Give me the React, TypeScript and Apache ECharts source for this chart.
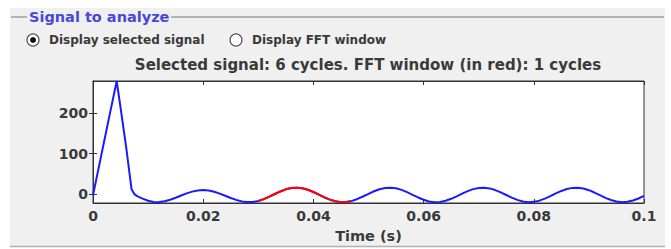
import React, { useEffect, useRef } from "react";
import * as echarts from "echarts";

const GROUP_TITLE = "Signal to analyze";
const RADIO_LABELS = ["Display selected signal", "Display FFT window"];
const CHART_TITLE = "Selected signal: 6 cycles. FFT window (in red): 1 cycles";
const X_NAME = "Time (s)";
const Y_TICKS = [0, 100, 200];
const FFT_WINDOW_MS = [30, 46.7];

const TIME_MS = [
  0, 1, 2, 3, 4, 4.3, 5, 6, 7, 7.5, 8, 9, 10, 11, 11.5, 12, 13, 14, 15, 16, 17, 18, 19, 20,
  21, 22, 23, 24, 25, 26, 27, 28, 29, 30, 31, 32, 33, 34, 35, 36, 37, 38, 39, 40,
  41, 42, 43, 44, 45, 46, 46.7, 47, 48, 49, 50, 51, 52, 53, 54, 55, 56, 57, 58, 59, 60,
  61, 62, 63, 64, 65, 66, 67, 68, 69, 70, 71, 72, 73, 74, 75, 76, 77, 78, 79, 80,
  81, 82, 83, 84, 85, 86, 87, 88, 89, 90, 91, 92, 93, 94, 95, 96, 97, 98, 99, 100,
];

const SIGNAL = [
  -3, 63, 129, 195, 260, 280, 214, 118, 12, 0, -5, -11, -16.5, -19.5, -20, -19.7, -17.7, -14.0, -9.0, -3.5, 1.8, 6.2, 9.1, 10,
  8.9, 5.9, 1.3, -4, -9.5, -14.4, -18, -19.8, -19.6, -17.0, -12.4, -6.4, 0.3, 6.6, 11.8, 15.0, 16.0, 14.5, 10.7, 5.2,
  -1.3, -7.9, -13.6, -17.8, -19.9, -19.5, -17.6, -16.8, -12.0, -5.9, 0.8, 7.0, 12.1, 15.2, 16.0, 14.3, 10.4, 4.8, -1.7, -8.3, -14.0,
  -18.1, -19.9, -19.4, -16.5, -11.6, -5.4, 1.2, 7.4, 12.4, 15.3, 15.9, 14.1, 10.0, 4.3, -2.2, -8.7, -14.3, -18.3, -19.9, -19.2,
  -16.2, -11.2, -5.0, 1.7, 7.8, 12.6, 15.4, 15.9, 13.8, 9.7, 3.9, -2.7, -9.2, -14.7, -18.5, -20.0, -19.1, -15.9, -10.8, -4.5,
];

const FONT = "DejaVu Sans";
const TEXT = "#3a3a3a";

export default function App() {
  const ref = useRef<HTMLDivElement>(null);
  useEffect(() => {
    if (!ref.current) return;
    const chart = echarts.init(ref.current, null, { renderer: "svg" });
    const all = TIME_MS.map((t, i) => [t / 1000, SIGNAL[i]]);
    const red = TIME_MS.map((t, i) => [t, SIGNAL[i]])
      .filter(([t]) => t >= FFT_WINDOW_MS[0] && t <= FFT_WINDOW_MS[1])
      .map(([t, v]) => [t / 1000, v]);
    const fmt = (v: number) => String(+(+v).toFixed(2));
    const baseY = {
      type: "value",
      min: -22,
      max: 280,
      splitLine: { show: false },
      axisLine: { show: true, lineStyle: { color: "#333", width: 1 } },
    };
    chart.setOption({
      animation: false,
      backgroundColor: "#ffffff",
      grid: {
        left: 93,
        right: 27,
        top: 81,
        bottom: 46,
        show: true,
        backgroundColor: "#ffffff",
        borderColor: "#333",
        borderWidth: 1,
      },
      graphic: [
        { type: "rect", z: -10, shape: { x: 10, y: 8, width: 655, height: 239 }, style: { fill: "#f0f0f0" } },
        { type: "line", shape: { x1: 11, y1: 17, x2: 27, y2: 17 }, style: { stroke: "#a0a0a0", lineWidth: 1.5 } },
        { type: "line", shape: { x1: 171, y1: 17, x2: 664, y2: 17 }, style: { stroke: "#a0a0a0", lineWidth: 1.5 } },
        { type: "line", shape: { x1: 10, y1: 246.5, x2: 665, y2: 246.5 }, style: { stroke: "#b0b0b0", lineWidth: 1.5 } },
        {
          type: "text",
          x: 29,
          y: 17,
          style: { text: GROUP_TITLE, fill: "#4848d8", font: `bold 14.5px "${FONT}"`, textVerticalAlign: "middle" },
        },
        { type: "circle", shape: { cx: 33, cy: 40, r: 6 }, style: { fill: "#ffffff", stroke: "#555", lineWidth: 1.2 } },
        { type: "circle", shape: { cx: 33, cy: 40, r: 3 }, style: { fill: "#111" } },
        {
          type: "text",
          x: 49,
          y: 40,
          style: { text: RADIO_LABELS[0], fill: TEXT, font: `bold 12px "${FONT}"`, textVerticalAlign: "middle" },
        },
        { type: "circle", shape: { cx: 236, cy: 40, r: 6 }, style: { fill: "#ffffff", stroke: "#555", lineWidth: 1.2 } },
        {
          type: "text",
          x: 252,
          y: 40,
          style: { text: RADIO_LABELS[1], fill: TEXT, font: `bold 12px "${FONT}"`, textVerticalAlign: "middle" },
        },
        {
          type: "text",
          x: 368,
          y: 65,
          style: {
            text: CHART_TITLE,
            fill: TEXT,
            font: `bold 15px "${FONT}"`,
            textAlign: "center",
            textVerticalAlign: "middle",
          },
        },
      ],
      xAxis: [
        {
          type: "value",
          min: 0,
          max: 0.1,
          interval: 0.02,
          name: X_NAME,
          nameLocation: "middle",
          nameGap: 25,
          nameTextStyle: { color: TEXT, fontFamily: FONT, fontSize: 14.5, fontWeight: "bold" },
          splitLine: { show: false },
          axisLine: { show: true, onZero: false, lineStyle: { color: "#333" } },
          axisTick: { show: true, inside: true, length: 4, lineStyle: { color: "#333" } },
          axisLabel: { color: TEXT, fontFamily: FONT, fontSize: 14, fontWeight: "bold", margin: 6, formatter: fmt },
        },
        {
          type: "value",
          position: "top",
          min: 0,
          max: 0.1,
          interval: 0.02,
          splitLine: { show: false },
          axisLine: { show: true, onZero: false, lineStyle: { color: "#333" } },
          axisTick: { show: true, inside: true, length: 4, lineStyle: { color: "#333" } },
          axisLabel: { show: false },
        },
      ],
      yAxis: [
        {
          ...baseY,
          axisTick: { show: true, inside: true, length: 4, customValues: Y_TICKS, lineStyle: { color: "#333" } },
          axisLabel: {
            color: TEXT,
            fontFamily: FONT,
            fontSize: 14,
            fontWeight: "bold",
            margin: 5,
            customValues: Y_TICKS,
          },
        },
        {
          ...baseY,
          position: "right",
          axisTick: { show: true, inside: true, length: 4, customValues: Y_TICKS, lineStyle: { color: "#333" } },
          axisLabel: { show: false },
        },
      ],
      series: [
        {
          type: "line",
          data: all,
          showSymbol: false,
          symbol: "none",
          lineStyle: { color: "#1a1aff", width: 2 },
          clip: true,
          z: 2,
        },
        {
          type: "line",
          data: red,
          showSymbol: false,
          symbol: "none",
          lineStyle: { color: "#ff0000", width: 2 },
          clip: true,
          z: 3,
        },
      ],
    });
    return () => chart.dispose();
  }, []);
  return <div ref={ref} style={{ position: "fixed", left: 0, top: 0, width: 671, height: 249 }} />;
}
